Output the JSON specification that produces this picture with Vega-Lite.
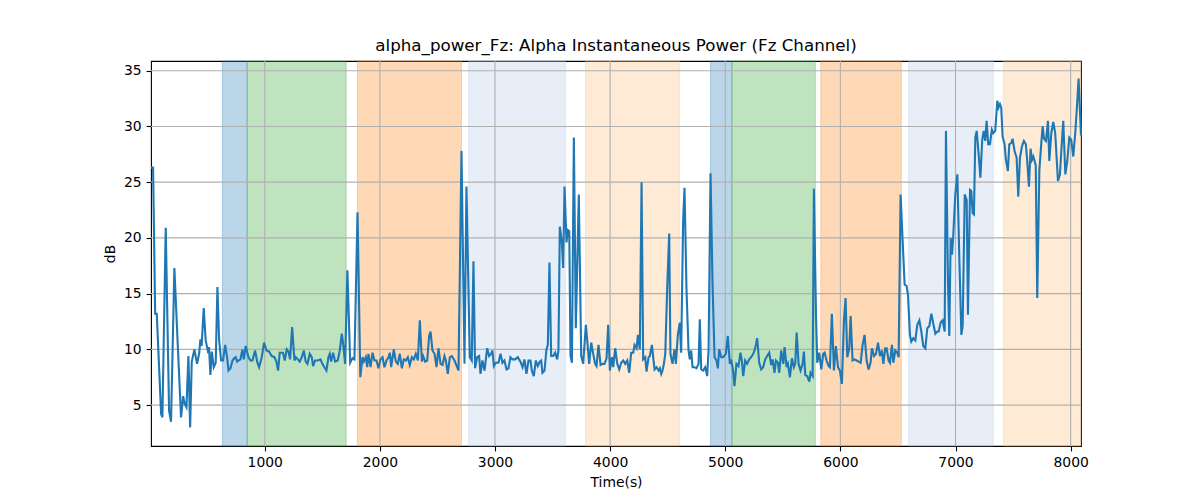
{
  "$schema": "https://vega.github.io/schema/vega-lite/v6.json",
  "autosize": "none",
  "width": 930,
  "height": 385,
  "padding": {"left": 151, "top": 61, "right": 119, "bottom": 54},
  "background": "white",
  "title": {
    "text": "alpha_power_Fz: Alpha Instantaneous Power (Fz Channel)",
    "font": "DejaVu Sans",
    "fontSize": 16.7,
    "fontWeight": "normal",
    "color": "black",
    "frame": "group",
    "baseline": "alphabetic",
    "offset": 8,
    "dy": 15
  },
  "config": {
    "view": {"stroke": "black", "strokeWidth": 1.1},
    "axis": {
      "grid": false,
      "domain": false,
      "tickColor": "black",
      "tickSize": 4.9,
      "tickWidth": 1.1,
      "labelFont": "DejaVu Sans",
      "labelFontSize": 13.9,
      "labelColor": "black",
      "labelPadding": 4.9,
      "titleFont": "DejaVu Sans",
      "titleFontSize": 13.9,
      "titleFontWeight": "normal",
      "titleColor": "black",
      "titlePadding": 5.6
    }
  },
  "datasets": {
    "bands": [
      {"start": 632, "end": 847, "band": "A"},
      {"start": 847, "end": 1707, "band": "B"},
      {"start": 1805, "end": 2709, "band": "C"},
      {"start": 2771, "end": 3611, "band": "D"},
      {"start": 3786, "end": 4602, "band": "E"},
      {"start": 4872, "end": 5058, "band": "A"},
      {"start": 5058, "end": 5782, "band": "B"},
      {"start": 5830, "end": 6529, "band": "C"},
      {"start": 6593, "end": 7329, "band": "D"},
      {"start": 7416, "end": 8090, "band": "E"}
    ],
    "gridx": [{"gx": 1000}, {"gx": 2000}, {"gx": 3000}, {"gx": 4000}, {"gx": 5000}, {"gx": 6000}, {"gx": 7000}, {"gx": 8000}],
    "gridy": [{"gy": 5}, {"gy": 10}, {"gy": 15}, {"gy": 20}, {"gy": 25}, {"gy": 30}, {"gy": 35}],
    "power": [
      {"t": 12, "v": 26.3}, {"t": 30, "v": 26.3}, {"t": 48, "v": 13.2}, {"t": 62, "v": 13.2}, {"t": 100, "v": 4.2},
      {"t": 111, "v": 3.9}, {"t": 140, "v": 20.9}, {"t": 169, "v": 4.5}, {"t": 186, "v": 3.5}, {"t": 215, "v": 17.3},
      {"t": 244, "v": 10.5}, {"t": 273, "v": 3.9}, {"t": 291, "v": 5.8}, {"t": 305, "v": 5.1}, {"t": 320, "v": 4.8},
      {"t": 337, "v": 9.4}, {"t": 352, "v": 3.0}, {"t": 366, "v": 8.9}, {"t": 389, "v": 10.0}, {"t": 412, "v": 8.7},
      {"t": 430, "v": 9.6}, {"t": 441, "v": 10.9}, {"t": 452, "v": 10.3}, {"t": 470, "v": 13.7}, {"t": 487, "v": 10.8},
      {"t": 505, "v": 9.9}, {"t": 516, "v": 10.2}, {"t": 528, "v": 7.7}, {"t": 540, "v": 9.8}, {"t": 557, "v": 8.4},
      {"t": 574, "v": 8.8}, {"t": 589, "v": 15.6}, {"t": 604, "v": 10.8}, {"t": 621, "v": 9.0}, {"t": 638, "v": 9.0},
      {"t": 656, "v": 10.4}, {"t": 673, "v": 9.3}, {"t": 685, "v": 8.1}, {"t": 702, "v": 8.3}, {"t": 720, "v": 9.0},
      {"t": 735, "v": 9.2}, {"t": 748, "v": 9.3}, {"t": 760, "v": 8.9}, {"t": 772, "v": 9.0}, {"t": 789, "v": 9.1},
      {"t": 806, "v": 10.0}, {"t": 818, "v": 9.1}, {"t": 835, "v": 10.3}, {"t": 858, "v": 9.3}, {"t": 876, "v": 9.0},
      {"t": 893, "v": 9.0}, {"t": 916, "v": 9.9}, {"t": 934, "v": 8.9}, {"t": 951, "v": 8.4}, {"t": 974, "v": 9.3},
      {"t": 994, "v": 10.6}, {"t": 1015, "v": 9.9}, {"t": 1038, "v": 9.8}, {"t": 1061, "v": 9.4}, {"t": 1084, "v": 9.3},
      {"t": 1101, "v": 8.9}, {"t": 1116, "v": 8.1}, {"t": 1130, "v": 9.7}, {"t": 1159, "v": 9.7}, {"t": 1174, "v": 9.0},
      {"t": 1191, "v": 10.0}, {"t": 1206, "v": 9.8}, {"t": 1220, "v": 9.1}, {"t": 1238, "v": 12.0}, {"t": 1258, "v": 9.0},
      {"t": 1270, "v": 9.3}, {"t": 1287, "v": 9.1}, {"t": 1304, "v": 8.9}, {"t": 1322, "v": 9.3}, {"t": 1339, "v": 9.9},
      {"t": 1356, "v": 8.9}, {"t": 1371, "v": 8.7}, {"t": 1391, "v": 9.6}, {"t": 1408, "v": 9.3}, {"t": 1420, "v": 8.5},
      {"t": 1437, "v": 9.0}, {"t": 1461, "v": 9.0}, {"t": 1484, "v": 9.1}, {"t": 1501, "v": 8.7}, {"t": 1518, "v": 8.4},
      {"t": 1536, "v": 8.1}, {"t": 1553, "v": 9.3}, {"t": 1565, "v": 9.6}, {"t": 1576, "v": 8.9}, {"t": 1594, "v": 9.7},
      {"t": 1611, "v": 8.9}, {"t": 1634, "v": 9.0}, {"t": 1652, "v": 9.9}, {"t": 1669, "v": 11.4}, {"t": 1681, "v": 10.5},
      {"t": 1698, "v": 8.7}, {"t": 1718, "v": 17.1}, {"t": 1742, "v": 8.8}, {"t": 1762, "v": 9.2}, {"t": 1779, "v": 9.1},
      {"t": 1806, "v": 22.3}, {"t": 1830, "v": 7.5}, {"t": 1849, "v": 9.3}, {"t": 1861, "v": 8.9}, {"t": 1878, "v": 9.3},
      {"t": 1890, "v": 8.4}, {"t": 1901, "v": 9.6}, {"t": 1919, "v": 8.4}, {"t": 1936, "v": 9.7}, {"t": 1953, "v": 9.0},
      {"t": 1971, "v": 9.0}, {"t": 1988, "v": 8.3}, {"t": 2005, "v": 9.1}, {"t": 2023, "v": 9.3}, {"t": 2040, "v": 8.4},
      {"t": 2058, "v": 9.0}, {"t": 2075, "v": 9.3}, {"t": 2087, "v": 9.7}, {"t": 2098, "v": 8.4}, {"t": 2121, "v": 10.0},
      {"t": 2139, "v": 8.9}, {"t": 2156, "v": 8.7}, {"t": 2173, "v": 9.6}, {"t": 2191, "v": 8.3}, {"t": 2208, "v": 9.1},
      {"t": 2226, "v": 9.0}, {"t": 2243, "v": 9.3}, {"t": 2260, "v": 8.6}, {"t": 2278, "v": 9.3}, {"t": 2295, "v": 9.1},
      {"t": 2312, "v": 9.6}, {"t": 2330, "v": 9.0}, {"t": 2347, "v": 12.6}, {"t": 2365, "v": 8.9}, {"t": 2376, "v": 9.4},
      {"t": 2394, "v": 8.9}, {"t": 2411, "v": 9.0}, {"t": 2428, "v": 11.2}, {"t": 2440, "v": 11.6}, {"t": 2457, "v": 9.9},
      {"t": 2475, "v": 9.6}, {"t": 2492, "v": 8.4}, {"t": 2509, "v": 10.1}, {"t": 2527, "v": 8.7}, {"t": 2544, "v": 8.6},
      {"t": 2561, "v": 9.4}, {"t": 2573, "v": 9.0}, {"t": 2590, "v": 7.8}, {"t": 2608, "v": 9.3}, {"t": 2625, "v": 9.4},
      {"t": 2648, "v": 9.0}, {"t": 2671, "v": 8.4}, {"t": 2683, "v": 8.1}, {"t": 2709, "v": 27.8}, {"t": 2735, "v": 8.7},
      {"t": 2752, "v": 24.6}, {"t": 2781, "v": 9.3}, {"t": 2798, "v": 9.0}, {"t": 2813, "v": 17.9}, {"t": 2827, "v": 8.3},
      {"t": 2845, "v": 9.3}, {"t": 2862, "v": 9.4}, {"t": 2874, "v": 7.8}, {"t": 2891, "v": 9.0}, {"t": 2909, "v": 8.1},
      {"t": 2932, "v": 10.1}, {"t": 2949, "v": 9.4}, {"t": 2966, "v": 9.6}, {"t": 2978, "v": 9.9}, {"t": 2990, "v": 8.5},
      {"t": 3007, "v": 8.8}, {"t": 3030, "v": 8.8}, {"t": 3048, "v": 9.6}, {"t": 3065, "v": 8.8}, {"t": 3082, "v": 9.0},
      {"t": 3100, "v": 8.2}, {"t": 3117, "v": 8.3}, {"t": 3134, "v": 9.3}, {"t": 3152, "v": 9.1}, {"t": 3175, "v": 9.1},
      {"t": 3198, "v": 9.3}, {"t": 3221, "v": 8.9}, {"t": 3239, "v": 8.4}, {"t": 3256, "v": 9.1}, {"t": 3273, "v": 7.8},
      {"t": 3291, "v": 9.0}, {"t": 3308, "v": 9.0}, {"t": 3320, "v": 8.1}, {"t": 3337, "v": 7.6}, {"t": 3355, "v": 9.0},
      {"t": 3372, "v": 8.5}, {"t": 3389, "v": 8.9}, {"t": 3401, "v": 9.0}, {"t": 3412, "v": 7.9}, {"t": 3430, "v": 8.1},
      {"t": 3447, "v": 10.0}, {"t": 3459, "v": 10.4}, {"t": 3473, "v": 17.8}, {"t": 3488, "v": 9.4}, {"t": 3505, "v": 9.4},
      {"t": 3522, "v": 9.7}, {"t": 3540, "v": 9.1}, {"t": 3551, "v": 9.9}, {"t": 3563, "v": 21.0}, {"t": 3580, "v": 19.7},
      {"t": 3592, "v": 17.3}, {"t": 3604, "v": 24.6}, {"t": 3621, "v": 19.6}, {"t": 3633, "v": 20.7}, {"t": 3645, "v": 20.6},
      {"t": 3656, "v": 9.4}, {"t": 3668, "v": 8.8}, {"t": 3685, "v": 29.0}, {"t": 3702, "v": 11.9}, {"t": 3728, "v": 23.9},
      {"t": 3749, "v": 9.4}, {"t": 3766, "v": 8.7}, {"t": 3789, "v": 12.2}, {"t": 3807, "v": 10.1}, {"t": 3818, "v": 8.7},
      {"t": 3836, "v": 10.6}, {"t": 3853, "v": 9.6}, {"t": 3870, "v": 8.7}, {"t": 3882, "v": 8.5}, {"t": 3899, "v": 10.4},
      {"t": 3917, "v": 8.6}, {"t": 3934, "v": 8.7}, {"t": 3951, "v": 8.7}, {"t": 3969, "v": 9.2}, {"t": 3983, "v": 12.2},
      {"t": 3998, "v": 8.1}, {"t": 4015, "v": 9.3}, {"t": 4027, "v": 8.4}, {"t": 4044, "v": 10.1}, {"t": 4062, "v": 8.7},
      {"t": 4079, "v": 8.2}, {"t": 4096, "v": 8.8}, {"t": 4114, "v": 9.0}, {"t": 4131, "v": 8.7}, {"t": 4149, "v": 9.0},
      {"t": 4166, "v": 7.9}, {"t": 4183, "v": 9.7}, {"t": 4201, "v": 9.7}, {"t": 4212, "v": 10.4}, {"t": 4230, "v": 10.1},
      {"t": 4241, "v": 11.3}, {"t": 4258, "v": 10.0}, {"t": 4273, "v": 25.0}, {"t": 4287, "v": 9.1}, {"t": 4305, "v": 9.3},
      {"t": 4316, "v": 8.0}, {"t": 4334, "v": 9.3}, {"t": 4345, "v": 9.4}, {"t": 4363, "v": 10.4}, {"t": 4374, "v": 9.3},
      {"t": 4386, "v": 8.2}, {"t": 4403, "v": 8.4}, {"t": 4421, "v": 8.1}, {"t": 4432, "v": 8.3}, {"t": 4444, "v": 7.8},
      {"t": 4455, "v": 8.1}, {"t": 4467, "v": 8.7}, {"t": 4479, "v": 9.6}, {"t": 4496, "v": 15.6}, {"t": 4513, "v": 20.4},
      {"t": 4524, "v": 9.6}, {"t": 4542, "v": 8.7}, {"t": 4559, "v": 10.0}, {"t": 4571, "v": 8.7}, {"t": 4588, "v": 11.3},
      {"t": 4605, "v": 12.4}, {"t": 4617, "v": 9.7}, {"t": 4634, "v": 21.5}, {"t": 4646, "v": 24.5}, {"t": 4663, "v": 15.5},
      {"t": 4681, "v": 9.9}, {"t": 4692, "v": 9.1}, {"t": 4704, "v": 9.9}, {"t": 4716, "v": 8.4}, {"t": 4733, "v": 8.4},
      {"t": 4750, "v": 8.3}, {"t": 4768, "v": 8.7}, {"t": 4779, "v": 12.7}, {"t": 4791, "v": 8.2}, {"t": 4808, "v": 8.1},
      {"t": 4826, "v": 8.4}, {"t": 4843, "v": 7.6}, {"t": 4855, "v": 9.9}, {"t": 4872, "v": 25.8}, {"t": 4889, "v": 16.1},
      {"t": 4907, "v": 9.3}, {"t": 4924, "v": 9.0}, {"t": 4936, "v": 8.3}, {"t": 4947, "v": 10.0}, {"t": 4965, "v": 9.3},
      {"t": 4982, "v": 9.3}, {"t": 5005, "v": 9.6}, {"t": 5022, "v": 11.2}, {"t": 5040, "v": 8.7}, {"t": 5051, "v": 9.1},
      {"t": 5068, "v": 8.1}, {"t": 5080, "v": 6.7}, {"t": 5097, "v": 8.7}, {"t": 5115, "v": 8.5}, {"t": 5132, "v": 9.7},
      {"t": 5144, "v": 9.0}, {"t": 5156, "v": 7.6}, {"t": 5173, "v": 9.0}, {"t": 5190, "v": 8.7}, {"t": 5208, "v": 9.1},
      {"t": 5225, "v": 9.3}, {"t": 5248, "v": 9.7}, {"t": 5266, "v": 10.4}, {"t": 5277, "v": 11.0}, {"t": 5295, "v": 8.8},
      {"t": 5312, "v": 8.2}, {"t": 5329, "v": 8.4}, {"t": 5347, "v": 9.1}, {"t": 5364, "v": 9.4}, {"t": 5382, "v": 9.7},
      {"t": 5399, "v": 8.6}, {"t": 5411, "v": 9.1}, {"t": 5428, "v": 7.9}, {"t": 5440, "v": 9.0}, {"t": 5457, "v": 8.8},
      {"t": 5469, "v": 7.9}, {"t": 5486, "v": 9.9}, {"t": 5504, "v": 8.7}, {"t": 5515, "v": 10.2}, {"t": 5533, "v": 8.4},
      {"t": 5544, "v": 8.7}, {"t": 5562, "v": 7.5}, {"t": 5579, "v": 9.2}, {"t": 5596, "v": 8.4}, {"t": 5608, "v": 8.7},
      {"t": 5620, "v": 11.5}, {"t": 5637, "v": 8.7}, {"t": 5654, "v": 8.1}, {"t": 5672, "v": 8.7}, {"t": 5683, "v": 9.8},
      {"t": 5695, "v": 7.7}, {"t": 5712, "v": 7.6}, {"t": 5730, "v": 7.1}, {"t": 5741, "v": 7.9}, {"t": 5759, "v": 7.6},
      {"t": 5770, "v": 24.4}, {"t": 5788, "v": 13.1}, {"t": 5799, "v": 8.8}, {"t": 5816, "v": 9.7}, {"t": 5834, "v": 8.2},
      {"t": 5851, "v": 9.6}, {"t": 5863, "v": 9.7}, {"t": 5880, "v": 9.0}, {"t": 5898, "v": 8.5}, {"t": 5909, "v": 8.4},
      {"t": 5926, "v": 13.2}, {"t": 5944, "v": 8.1}, {"t": 5961, "v": 10.3}, {"t": 5979, "v": 8.4}, {"t": 5996, "v": 8.1},
      {"t": 6013, "v": 6.9}, {"t": 6031, "v": 12.6}, {"t": 6045, "v": 14.6}, {"t": 6060, "v": 9.3}, {"t": 6077, "v": 10.1},
      {"t": 6089, "v": 13.0}, {"t": 6106, "v": 9.0}, {"t": 6124, "v": 9.1}, {"t": 6141, "v": 9.0}, {"t": 6158, "v": 8.9},
      {"t": 6176, "v": 8.8}, {"t": 6193, "v": 10.4}, {"t": 6210, "v": 11.3}, {"t": 6228, "v": 9.0}, {"t": 6245, "v": 8.2},
      {"t": 6262, "v": 8.8}, {"t": 6274, "v": 10.1}, {"t": 6292, "v": 9.4}, {"t": 6309, "v": 9.6}, {"t": 6327, "v": 10.6},
      {"t": 6344, "v": 9.4}, {"t": 6361, "v": 9.9}, {"t": 6373, "v": 8.7}, {"t": 6390, "v": 10.1}, {"t": 6402, "v": 10.1},
      {"t": 6419, "v": 9.0}, {"t": 6431, "v": 8.8}, {"t": 6448, "v": 10.4}, {"t": 6460, "v": 8.8}, {"t": 6477, "v": 9.9},
      {"t": 6494, "v": 9.7}, {"t": 6506, "v": 9.3}, {"t": 6523, "v": 23.9}, {"t": 6541, "v": 19.7}, {"t": 6558, "v": 15.8},
      {"t": 6575, "v": 15.7}, {"t": 6587, "v": 14.9}, {"t": 6604, "v": 11.3}, {"t": 6616, "v": 10.7}, {"t": 6633, "v": 11.0},
      {"t": 6651, "v": 10.8}, {"t": 6668, "v": 12.2}, {"t": 6686, "v": 12.6}, {"t": 6703, "v": 11.6}, {"t": 6720, "v": 10.3},
      {"t": 6738, "v": 10.1}, {"t": 6755, "v": 11.9}, {"t": 6773, "v": 12.1}, {"t": 6790, "v": 13.2}, {"t": 6807, "v": 12.3},
      {"t": 6825, "v": 11.4}, {"t": 6842, "v": 11.6}, {"t": 6854, "v": 11.6}, {"t": 6871, "v": 12.4}, {"t": 6888, "v": 12.6},
      {"t": 6906, "v": 11.6}, {"t": 6917, "v": 29.6}, {"t": 6935, "v": 15.8}, {"t": 6946, "v": 11.2}, {"t": 6958, "v": 20.0},
      {"t": 6970, "v": 18.5}, {"t": 6981, "v": 20.3}, {"t": 6998, "v": 23.9}, {"t": 7016, "v": 25.7}, {"t": 7033, "v": 18.2},
      {"t": 7051, "v": 11.3}, {"t": 7062, "v": 12.1}, {"t": 7080, "v": 23.9}, {"t": 7097, "v": 23.4}, {"t": 7108, "v": 13.1},
      {"t": 7126, "v": 24.3}, {"t": 7137, "v": 24.2}, {"t": 7149, "v": 22.2}, {"t": 7160, "v": 22.1}, {"t": 7172, "v": 29.0},
      {"t": 7184, "v": 29.6}, {"t": 7201, "v": 27.5}, {"t": 7216, "v": 25.4}, {"t": 7232, "v": 28.8}, {"t": 7245, "v": 29.6},
      {"t": 7258, "v": 28.7}, {"t": 7270, "v": 30.5}, {"t": 7284, "v": 28.4}, {"t": 7299, "v": 28.4}, {"t": 7316, "v": 29.7},
      {"t": 7328, "v": 29.4}, {"t": 7345, "v": 29.6}, {"t": 7363, "v": 32.3}, {"t": 7374, "v": 31.7}, {"t": 7386, "v": 32.0},
      {"t": 7397, "v": 31.7}, {"t": 7409, "v": 29.1}, {"t": 7426, "v": 28.4}, {"t": 7438, "v": 27.0}, {"t": 7455, "v": 26.0},
      {"t": 7467, "v": 28.4}, {"t": 7484, "v": 28.5}, {"t": 7496, "v": 28.9}, {"t": 7513, "v": 27.8}, {"t": 7531, "v": 27.2},
      {"t": 7545, "v": 23.7}, {"t": 7560, "v": 27.2}, {"t": 7577, "v": 28.2}, {"t": 7594, "v": 28.7}, {"t": 7611, "v": 28.4},
      {"t": 7623, "v": 26.9}, {"t": 7638, "v": 24.6}, {"t": 7652, "v": 28.0}, {"t": 7664, "v": 27.0}, {"t": 7676, "v": 27.3},
      {"t": 7687, "v": 26.9}, {"t": 7697, "v": 26.5}, {"t": 7710, "v": 14.6}, {"t": 7728, "v": 26.0}, {"t": 7745, "v": 28.5},
      {"t": 7757, "v": 30.0}, {"t": 7769, "v": 28.9}, {"t": 7786, "v": 28.7}, {"t": 7803, "v": 30.5}, {"t": 7815, "v": 26.9},
      {"t": 7832, "v": 29.4}, {"t": 7849, "v": 30.4}, {"t": 7866, "v": 29.4}, {"t": 7890, "v": 25.1}, {"t": 7907, "v": 25.7},
      {"t": 7919, "v": 27.8}, {"t": 7936, "v": 30.5}, {"t": 7954, "v": 25.7}, {"t": 7971, "v": 26.9}, {"t": 7988, "v": 29.0},
      {"t": 8005, "v": 28.8}, {"t": 8023, "v": 27.3}, {"t": 8040, "v": 29.4}, {"t": 8058, "v": 32.3}, {"t": 8069, "v": 34.3},
      {"t": 8090, "v": 29.2}
    ]
  },
  "layer": [
    {
      "data": {"name": "bands"},
      "mark": {"type": "rect", "fillOpacity": 0.3, "strokeOpacity": 0.3, "strokeWidth": 1},
      "encoding": {
        "x": {"field": "start", "type": "quantitative", "title": "Time(s)",
              "scale": {"domain": [12, 8090], "nice": false, "zero": false},
              "axis": {"values": [1000, 2000, 3000, 4000, 5000, 6000, 7000, 8000], "format": "d"}},
        "x2": {"field": "end"},
        "fill": {"field": "band", "type": "nominal", "legend": null,
                 "scale": {"domain": ["A", "B", "C", "D", "E"], "range": ["#1f77b4", "#2ca02c", "#ff7f0e", "#aec7e8", "#ffbb78"]}},
        "stroke": {"field": "band", "type": "nominal", "legend": null,
                   "scale": {"domain": ["A", "B", "C", "D", "E"], "range": ["#1f77b4", "#2ca02c", "#ff7f0e", "#aec7e8", "#ffbb78"]}}
      }
    },
    {
      "data": {"name": "gridx"},
      "mark": {"type": "rule", "color": "#b0b0b0", "strokeWidth": 1.1},
      "encoding": {
        "x": {"field": "gx", "type": "quantitative", "title": "Time(s)"}
      }
    },
    {
      "data": {"name": "gridy"},
      "mark": {"type": "rule", "color": "#b0b0b0", "strokeWidth": 1.1},
      "encoding": {
        "y": {"field": "gy", "type": "quantitative", "title": "dB",
              "scale": {"domain": [1.33, 35.87], "nice": false, "zero": false},
              "axis": {"values": [5, 10, 15, 20, 25, 30, 35]}}
      }
    },
    {
      "data": {"name": "power"},
      "mark": {"type": "line", "color": "#1f77b4", "strokeWidth": 2.1},
      "encoding": {
        "x": {"field": "t", "type": "quantitative", "title": "Time(s)"},
        "y": {"field": "v", "type": "quantitative", "title": "dB"}
      }
    }
  ]
}
